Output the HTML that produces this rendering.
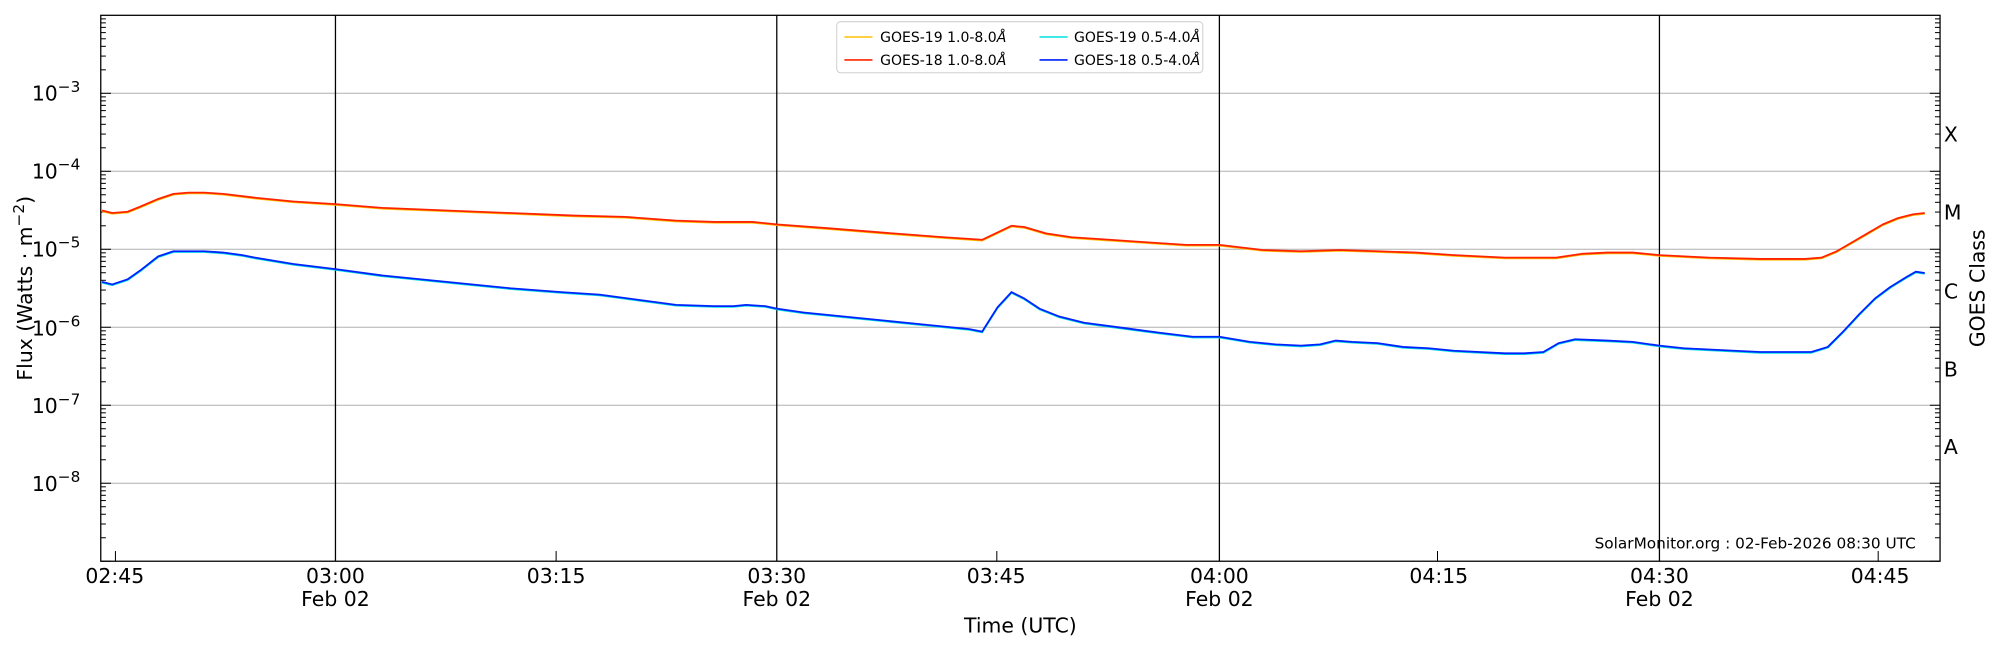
<!DOCTYPE html>
<html><head><meta charset="utf-8"><style>html,body{margin:0;padding:0;background:#fff}svg{display:block}text{font-family:"DejaVu Sans","Liberation Sans",sans-serif;fill:#000}</style></head>
<body>
<svg width="2000" height="650" viewBox="0 0 1568 509.6" xmlns="http://www.w3.org/2000/svg">
<rect width="1568" height="510" fill="#fff"/>
<g stroke="#b0b0b0" stroke-width="0.8">
<line x1="79" x2="1521" y1="73.1" y2="73.1"/><line x1="79" x2="1521" y1="134.3" y2="134.3"/><line x1="79" x2="1521" y1="195.4" y2="195.4"/><line x1="79" x2="1521" y1="256.6" y2="256.6"/><line x1="79" x2="1521" y1="317.7" y2="317.7"/><line x1="79" x2="1521" y1="378.9" y2="378.9"/>
</g>
<g stroke="#000" stroke-width="1"><line x1="263" x2="263" y1="12" y2="440"/><line x1="609" x2="609" y1="12" y2="440"/><line x1="956" x2="956" y1="12" y2="440"/><line x1="1301" x2="1301" y1="12" y2="440"/></g>
<g id="ticks" stroke="#000" stroke-width="0.8"></g>
<g fill="none" stroke-width="1.4" stroke-linejoin="round">
<polyline id="r19" stroke="#ffc000"/><polyline id="b19" stroke="#00e0e0"/>
<polyline id="r18" stroke="#ff2200"/><polyline id="b18" stroke="#0022ff"/>
</g>
<rect x="79" y="12" width="1442" height="428" fill="none" stroke="#000" stroke-width="1"/>
<g font-size="16" text-anchor="end">
<text x="63" y="79">10<tspan font-size="12" dy="-7">−3</tspan></text>
<text x="63" y="140">10<tspan font-size="12" dy="-7">−4</tspan></text>
<text x="63" y="201">10<tspan font-size="12" dy="-7">−5</tspan></text>
<text x="63" y="263">10<tspan font-size="12" dy="-7">−6</tspan></text>
<text x="63" y="324">10<tspan font-size="12" dy="-7">−7</tspan></text>
<text x="63" y="385">10<tspan font-size="12" dy="-7">−8</tspan></text>
</g>
<g font-size="16" text-anchor="middle">
<text x="90" y="457">02:45</text>
<text x="263" y="457">03:00</text><text x="263" y="475">Feb 02</text>
<text x="436" y="457">03:15</text>
<text x="609" y="457">03:30</text><text x="609" y="475">Feb 02</text>
<text x="781" y="457">03:45</text>
<text x="956" y="457">04:00</text><text x="956" y="475">Feb 02</text>
<text x="1128" y="457">04:15</text>
<text x="1301" y="457">04:30</text><text x="1301" y="475">Feb 02</text>
<text x="1474" y="457">04:45</text>
<text x="800" y="496">Time (UTC)</text>
</g>
<g font-size="16">
<text x="1524" y="111">X</text><text x="1524" y="172">M</text><text x="1524" y="234">C</text><text x="1524" y="295">B</text><text x="1524" y="356">A</text>
</g>
<text font-size="16" text-anchor="middle" transform="translate(1556,226) rotate(-90)">GOES Class</text>
<text font-size="16" text-anchor="middle" transform="translate(25,226) rotate(-90)">Flux (Watts · m<tspan font-size="12" dy="-6">−2</tspan><tspan dy="6">)</tspan></text>
<text font-size="12" text-anchor="end" x="1502" y="430">SolarMonitor.org : 02-Feb-2026 08:30 UTC</text>
<rect x="656" y="17" width="287" height="40" rx="3" fill="#fff" stroke="#d0d0d0" stroke-width="0.8"/>
<g stroke-width="1.2"><line x1="662" x2="684" y1="29" y2="29" stroke="#ffc000"/><line x1="662" x2="684" y1="47" y2="47" stroke="#ff2200"/><line x1="815" x2="837" y1="29" y2="29" stroke="#00e0e0"/><line x1="815" x2="837" y1="47" y2="47" stroke="#0022ff"/></g>
<g font-size="11"><text x="690" y="33">GOES-19 1.0-8.0<tspan font-style="italic">Å</tspan></text><text x="690" y="51">GOES-18 1.0-8.0<tspan font-style="italic">Å</tspan></text><text x="842" y="33">GOES-19 0.5-4.0<tspan font-style="italic">Å</tspan></text><text x="842" y="51">GOES-18 0.5-4.0<tspan font-style="italic">Å</tspan></text></g>
</svg>
<script>
var R=[[80,165],[88,167],[100,166],[110,162],[124,156],[136,152],[148,151],[160,151],[175,152],[200,155],[230,158],[263,160],[300,163],[350,165],[400,167],[450,169],[490,170],[530,173],[560,174],[590,174],[610,176],[650,179],[700,183],[740,186],[770,188],[793,177],[803,178],[820,183],[840,186],[870,188],[900,190],[930,192],[956,192],[990,196],[1020,197],[1050,196],[1080,197],[1110,198],[1140,200],[1180,202],[1220,202],[1240,199],[1260,198],[1280,198],[1301,200],[1340,202],[1380,203],[1415,203],[1428,202],[1440,197],[1452,190],[1464,183],[1476,176],[1488,171],[1500,168],[1509,167]];
var B=[[80,221],[88,223],[100,219],[110,212],[124,201],[136,197],[148,197],[160,197],[175,198],[190,200],[200,202],[230,207],[263,211],[300,216],[350,221],[400,226],[440,229],[470,231],[500,235],[530,239],[560,240],[575,240],[585,239],[600,240],[609,242],[630,245],[680,250],[720,254],[760,258],[770,260],[782,241],[793,229],[803,234],[815,242],[830,248],[850,253],[880,257],[910,261],[935,264],[956,264],[980,268],[1000,270],[1020,271],[1035,270],[1047,267],[1060,268],[1080,269],[1100,272],[1120,273],[1140,275],[1180,277],[1195,277],[1210,276],[1222,269],[1235,266],[1260,267],[1280,268],[1301,271],[1320,273],[1380,276],[1420,276],[1433,272],[1445,260],[1458,246],[1470,234],[1482,225],[1495,217],[1502,213],[1509,214]];
function s(a,d){return a.map(p=>p[0]+','+(p[1]+d)).join(' ')}
document.getElementById('r18').setAttribute('points',s(R,0));
document.getElementById('r19').setAttribute('points',s(R,0.6));
document.getElementById('b18').setAttribute('points',s(B,0));
document.getElementById('b19').setAttribute('points',s(B,0.6));
var g=document.getElementById('ticks'),h='',dec=428/7;
for(var d=0;d<7;d++){var base=440-d*dec;for(var m=1;m<10;m++){var y=base-Math.log10(m)*dec;var L=m==1?8:4;h+='<line x1="79" x2="'+(79+L)+'" y1="'+y+'" y2="'+y+'"/><line x1="'+(1521-L)+'" x2="1521" y1="'+y+'" y2="'+y+'"/>';}}
[90.5,436,781.5,1127,1472.5].forEach(x=>{h+='<line x1="'+x+'" x2="'+x+'" y1="440" y2="432"/>'});
g.innerHTML=h;
</script>
</body></html>
